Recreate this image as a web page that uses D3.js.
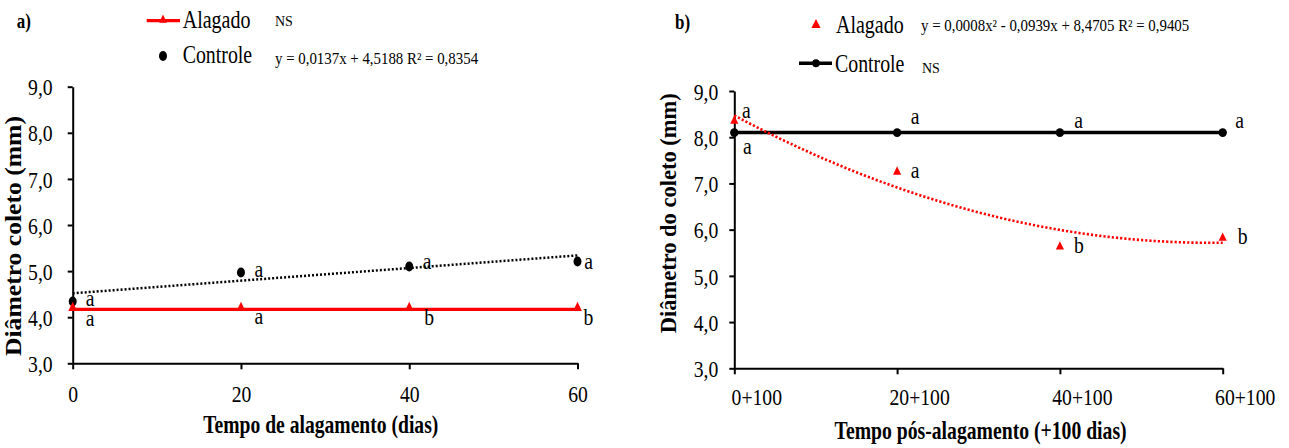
<!DOCTYPE html>
<html>
<head>
<meta charset="utf-8">
<script src="https://cdn.jsdelivr.net/npm/d3@7"></script>
<style>
  html, body { margin: 0; padding: 0; background: #fff; }
  svg { display: block; }
  svg text { font-family: "Liberation Serif", "Times New Roman", "DejaVu Serif", serif !important; }
</style>
</head>
<body>
<svg id="chart" width="1289" height="448"></svg>
<script>
// ---- Panel a: stem diameter during flooding ----
const daysA = [0, 20, 40, 60];
const alagadoA = [4.17, 4.17, 4.17, 4.17];
const controleA = [4.34, 4.97, 5.10, 5.21];
const lettersAlagadoA = ["a", "a", "b", "b"];
const lettersControleA = ["a", "a", "a", "a"];
const trendControleA = [4.5188, 0.0137];           // intercept, slope
const equationA = "y = 0,0137x + 4,5188 R² = 0,8354";

// ---- Panel b: stem diameter after flooding (+100 days) ----
const daysB = [0, 20, 40, 60];
const tickLabelsB = ["0+100", "20+100", "40+100", "60+100"];
const alagadoB = [8.35, 7.25, 5.63, 5.82];
const controleB = [8.1, 8.1, 8.1, 8.1];
const lettersAlagadoB = ["a", "a", "b", "b"];
const lettersControleB = ["a", "a", "a", "a"];
const trendAlagadoB = [8.4705, -0.0939, 0.0008];  // c0, c1, c2
const equationB = "y = 0,0008x² - 0,0939x + 8,4705 R² = 0,9405";

const yTicks = [3, 4, 5, 6, 7, 8, 9];

// letter placement relative to each point: [dx, dy] in px
const offControleA = [[17.5, 4.5], [18, 4.6], [18, 2.6], [11, 8]];
const offAlagadoA  = [[17.5, 16.3], [18, 14.6], [20, 15.6], [11, 15.6]];
const offControleB = [[13, 21], [18, -9], [18.6, -5], [17, -5]];
const offAlagadoB  = [[12, -3], [18, 6.4], [19, 6.6], [20, 6.4]];

const SX = 0.82;   // narrow type
const RED = "#ff0000";
const SERIF = "'Liberation Serif', 'Times New Roman', 'DejaVu Serif', serif";
const svg = d3.select("#chart");
const fmt = d => d.toFixed(1).replace(".", ",");

function text(g, x, y, s, o = {}) {
  const t = g.append("text")
    .attr("transform", `translate(${x},${y}) scale(${o.sx ?? SX},1)` + (o.rotate ? ` rotate(${o.rotate})` : ""))
    .attr("text-anchor", o.anchor || "start")
    .attr("font-family", SERIF)
    .style("font-size", (o.size || 24) + "px")
    .style("font-weight", o.weight || "normal")
    .attr("fill", o.fill || "#000")
    .text(s);
  if (o.len) t.attr("textLength", o.len).attr("lengthAdjust", "spacingAndGlyphs");
  return t;
}

function marker(g, type, x, y, size, fill, sx) {
  g.append("path")
    .attr("d", d3.symbol().type(type).size(size)())
    .attr("transform", `translate(${x},${y}) scale(${sx},1)`)
    .attr("fill", fill);
}

function styleAxis(ax) {
  ax.attr("font-family", SERIF);
  ax.select(".domain").attr("stroke", "#000").attr("stroke-width", 2);
  ax.selectAll(".tick line").attr("stroke", "#000").attr("stroke-width", 2);
  ax.selectAll(".tick text")
    .attr("font-family", SERIF)
    .style("font-size", "24px").attr("fill", "#000");
}

function axes(g, x, y, days, xFmt, yLabelGap, xLabelDx, xLabelDy) {
  const ay = g.append("g").attr("transform", `translate(${x(0)},0)`)
    .call(d3.axisLeft(y).tickValues(yTicks).tickSize(5).tickSizeOuter(0).tickFormat(fmt));
  styleAxis(ay);
  ay.selectAll(".tick text").attr("x", null).attr("dy", "0.34em")
    .attr("transform", `translate(${-yLabelGap},0) scale(${SX},1)`);

  const ax = g.append("g").attr("transform", `translate(0,${y(3)})`)
    .call(d3.axisBottom(x).tickValues(days).tickSize(6).tickSizeOuter(0).tickFormat(xFmt));
  styleAxis(ax);
  ax.selectAll(".tick text").attr("y", null).attr("dy", null)
    .attr("transform", `translate(${xLabelDx},${xLabelDy}) scale(${SX},1)`);
}

// ================= Panel a =================
{
  const g = svg.append("g");
  const x = d3.scaleLinear().domain([0, 60]).range([72.7, 577.5]);
  const y = d3.scaleLinear().domain([3, 9]).range([363.3, 86.7]);

  axes(g, x, y, daysA, d => d, 20, 0, 38.7);

  // linear trend of Controle
  const lin = v => trendControleA[0] + trendControleA[1] * v;
  g.append("path")
    .attr("d", d3.line()([[x(0), y(lin(0))], [x(60), y(lin(60))]]))
    .attr("fill", "none").attr("stroke", "#000")
    .attr("stroke-width", 2.5).attr("stroke-dasharray", "2 2");

  // Controle points
  controleA.forEach((v, i) => marker(g, d3.symbolCircle, x(daysA[i]), y(v), 78, "#000", 0.8));

  // Alagado line + triangles
  g.append("path")
    .attr("d", d3.line().x((d, i) => x(daysA[i])).y(d => y(d))(alagadoA))
    .attr("fill", "none").attr("stroke", RED).attr("stroke-width", 3.2);
  alagadoA.forEach((v, i) => marker(g, d3.symbolTriangle, x(daysA[i]), y(v) - 1.5, 50, RED, SX));

  // significance letters
  controleA.forEach((v, i) => text(g, x(daysA[i]) + offControleA[i][0], y(v) + offControleA[i][1],
    lettersControleA[i], { anchor: "middle" }));
  alagadoA.forEach((v, i) => text(g, x(daysA[i]) + offAlagadoA[i][0], y(v) + offAlagadoA[i][1],
    lettersAlagadoA[i], { anchor: "middle" }));

  // titles
  text(g, 320.8, 433.3, "Tempo de alagamento (dias)", { size: 25, weight: "bold", anchor: "middle", sx: 1, len: 235 });
  text(g, 20.5, 236, "Diâmetro coleto (mm)", { size: 23, weight: "bold", anchor: "middle", sx: 1, rotate: -90, len: 240 });
  text(g, 16.7, 27.5, "a)", { size: 20, weight: "bold", sx: 0.85 });

  // legend
  g.append("line").attr("x1", 146.7).attr("x2", 180).attr("y1", 20.7).attr("y2", 20.7)
    .attr("stroke", RED).attr("stroke-width", 3.2);
  marker(g, d3.symbolTriangle, 163, 20, 38, RED, SX);
  text(g, 182.7, 28.3, "Alagado", { size: 25, sx: 0.8 });
  text(g, 275, 26.3, "NS", { size: 14, sx: 1 });
  marker(g, d3.symbolCircle, 163, 56, 78, "#000", 0.8);
  text(g, 182.7, 62.8, "Controle", { size: 24.5, sx: 0.81 });
  text(g, 275, 64, equationA, { size: 16, sx: 0.93 });
}

// ================= Panel b =================
{
  const g = svg.append("g");
  const x = d3.scaleLinear().domain([0, 60]).range([734.3, 1222.7]);
  const y = d3.scaleLinear().domain([3, 9]).range([368.3, 91]);

  axes(g, x, y, daysB, (d, i) => tickLabelsB[i], 16, 22, 36.7);

  // Controle line + points
  g.append("path")
    .attr("d", d3.line().x((d, i) => x(daysB[i])).y(d => y(d))(controleB))
    .attr("fill", "none").attr("stroke", "#000").attr("stroke-width", 3.5);
  controleB.forEach((v, i) => marker(g, d3.symbolCircle, x(daysB[i]), y(v), 62, "#000", 0.95));

  // quadratic trend of Alagado
  const quad = v => trendAlagadoB[0] + trendAlagadoB[1] * v + trendAlagadoB[2] * v * v;
  g.append("path")
    .attr("d", d3.line().x(d => x(d)).y(d => y(quad(d))).curve(d3.curveMonotoneX)(d3.range(0, 60.01, 1)))
    .attr("fill", "none").attr("stroke", RED)
    .attr("stroke-width", 2.6).attr("stroke-dasharray", "2.2 2");

  alagadoB.forEach((v, i) => marker(g, d3.symbolTriangle, x(daysB[i]), y(v), 40, RED, 0.85));

  controleB.forEach((v, i) => text(g, x(daysB[i]) + offControleB[i][0], y(v) + offControleB[i][1],
    lettersControleB[i], { anchor: "middle" }));
  alagadoB.forEach((v, i) => text(g, x(daysB[i]) + offAlagadoB[i][0], y(v) + offAlagadoB[i][1],
    lettersAlagadoB[i], { anchor: "middle" }));

  // titles
  text(g, 980.6, 439.3, "Tempo pós-alagamento (+100 dias)", { size: 25, weight: "bold", anchor: "middle", sx: 1, len: 292 });
  text(g, 676, 213.3, "Diâmetro do coleto (mm)", { size: 22.5, weight: "bold", anchor: "middle", sx: 1, rotate: -90, len: 240 });
  text(g, 675, 28.5, "b)", { size: 20, weight: "bold", sx: 0.85 });

  // legend
  marker(g, d3.symbolTriangle, 816, 25, 45, RED, 0.9);
  text(g, 836, 32.7, "Alagado", { size: 25, sx: 0.8 });
  text(g, 921, 30.7, equationB, { size: 16, sx: 0.93 });
  g.append("line").attr("x1", 799).attr("x2", 832).attr("y1", 63.3).attr("y2", 63.3)
    .attr("stroke", "#000").attr("stroke-width", 3.5);
  marker(g, d3.symbolCircle, 816, 63.3, 50, "#000", 0.95);
  text(g, 835, 71.7, "Controle", { size: 24.5, sx: 0.81 });
  text(g, 922, 72.7, "NS", { size: 14, sx: 1 });
}
</script>
</body>
</html>
